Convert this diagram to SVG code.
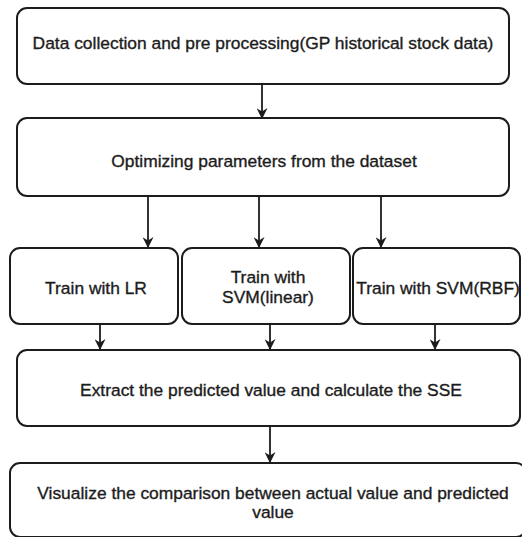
<svg xmlns="http://www.w3.org/2000/svg" width="522" height="537" viewBox="0 0 522 537">
  <style>
    .box { fill: #ffffff; stroke: #1c1c1c; stroke-width: 2; }
    .lbl { font-family: "Liberation Sans", Arial, sans-serif; font-size: 17.4px; fill: #1c1c1c; stroke: #1c1c1c; stroke-width: 0.35; text-anchor: middle; dominant-baseline: central; }
    .edge { stroke: #1c1c1c; stroke-width: 1.8; fill: none; marker-end: url(#arrow); }
  </style>
  <defs>
    <marker id="arrow" viewBox="0 0 10 10" refX="9" refY="5" markerWidth="11" markerHeight="11" markerUnits="userSpaceOnUse" orient="auto">
      <path d="M0,0 L10,5 L0,10 L3,5 z" fill="#1c1c1c"/>
    </marker>
  </defs>
  <rect width="522" height="537" fill="#ffffff"/>

  <g id="connectors">
    <line class="edge" x1="262" y1="84" x2="262" y2="118"/>
    <line class="edge" x1="148" y1="196" x2="148" y2="247"/>
    <line class="edge" x1="259" y1="196" x2="259" y2="247"/>
    <line class="edge" x1="381" y1="196" x2="381" y2="247"/>
    <line class="edge" x1="100" y1="324" x2="100" y2="349"/>
    <line class="edge" x1="270" y1="324" x2="270" y2="349"/>
    <line class="edge" x1="435" y1="324" x2="435" y2="349"/>
    <line class="edge" x1="270" y1="426" x2="270" y2="462"/>
  </g>

  <g id="data-collection">
    <rect class="box" x="17" y="8" width="492" height="76" rx="10"/>
    <text class="lbl" x="263" y="42.5">Data collection and pre processing(GP historical stock data)</text>
  </g>
  <g id="optimize">
    <rect class="box" x="17" y="118" width="492" height="78" rx="10"/>
    <text class="lbl" x="264" y="161">Optimizing parameters from the dataset</text>
  </g>
  <g id="train-lr">
    <rect class="box" x="10" y="248" width="168" height="76" rx="10"/>
    <text class="lbl" x="96" y="287.5">Train with LR</text>
  </g>
  <g id="train-svm-linear">
    <rect class="box" x="182" y="248" width="168" height="76" rx="10"/>
    <text class="lbl" x="268" y="277">Train with</text>
    <text class="lbl" x="268" y="297">SVM(linear)</text>
  </g>
  <g id="train-svm-rbf">
    <rect class="box" x="353" y="248" width="167" height="76" rx="10"/>
    <text class="lbl" x="438" y="287.5">Train with SVM(RBF)</text>
  </g>
  <g id="extract-sse">
    <rect class="box" x="17" y="350" width="503" height="76" rx="10"/>
    <text class="lbl" x="271" y="389.5">Extract the predicted value and calculate the SSE</text>
  </g>
  <g id="visualize">
    <rect class="box" x="10" y="463" width="516" height="74" rx="10"/>
    <text class="lbl" x="273" y="492.5">Visualize the comparison between actual value and predicted</text>
    <text class="lbl" x="273" y="512">value</text>
  </g>
</svg>
